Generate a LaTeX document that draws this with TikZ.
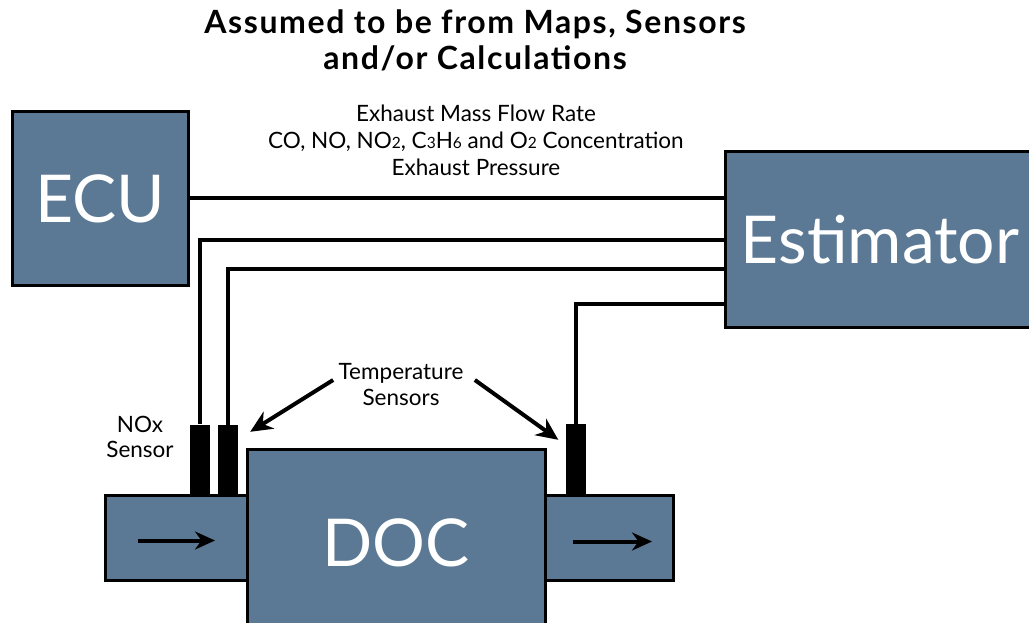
\documentclass[tikz,border=0pt]{standalone}
\usepackage{fontspec}
\setmainfont{Lato}
\newfontfamily\titlefont[LetterSpace=5]{Lato}
\usepackage{xcolor}
\usetikzlibrary{arrows.meta,calc}
\definecolor{slate}{HTML}{5B7994}
\newcommand{\lowidx}[1]{{\fontsize{15.5}{15.5}\selectfont #1}}

\begin{document}
\begin{tikzpicture}[x=1pt,y=-1pt,>=Stealth,
  block/.style={draw=black,line width=3pt,fill=slate,text=white,inner sep=0pt,
                font=\fontsize{66}{66}\selectfont},
  pipe/.style={draw=black,line width=3pt,fill=slate,inner sep=0pt},
  probe/.style={fill=black,inner sep=0pt,minimum width=20pt,minimum height=70pt},
  wire/.style={line width=4pt},
  flow/.style={line width=4pt,-{Stealth[length=20pt,width=18pt]}},
  lbl/.style={align=center,font=\fontsize{22.5}{27}\selectfont}]
\useasboundingbox (0,0) rectangle (1029,623);

\node[font=\titlefont\bfseries\fontsize{32}{36}\selectfont,align=center] (title) at (475,40)
  {Assumed to be from Maps, Sensors\\and/or Calculations};
\node[lbl] (signals) at (476,140)
  {Exhaust Mass Flow Rate\\CO, NO, NO\lowidx{2}, C\lowidx{3}H\lowidx{6} and O\lowidx{2} Concentration\\Exhaust Pressure};

\node[block,minimum width=176pt,minimum height=173pt] (ecu) at (100,198.5) {ECU};
\node[block,minimum width=310pt,minimum height=175pt] (est) at (880,239.5) {Estimator};

\node[pipe,minimum width=142pt,minimum height=85pt] (inlet) at (176,537.5) {};
\node[pipe,minimum width=128pt,minimum height=85pt] (outlet) at (609,537.5) {};
\node[block,minimum width=298pt,minimum height=188pt] (doc) at (396,543) {DOC};

\node[probe] (nox) at (200,459.5) {};
\node[probe] (tin) at (228,460) {};
\node[probe] (tout) at (575.5,459) {};

\coordinate (w3) at ($(est.west)+(0,29)$);
\coordinate (w4) at ($(est.south west)+(0,-25)$);
\draw[wire] (ecu.east) -- (ecu.east -| est.west);
\draw[wire] (nox.north) |- (est.west);
\draw[wire] (tin.north) |- (w3);
\draw[wire] (tout.north) |- (w4);

\draw[flow] ($(inlet.center)+(-38,3)$) -- ($(inlet.center)+(39,3)$);
\draw[flow] ($(outlet.center)+(-36,4)$) -- ($(outlet.center)+(43,4)$);

\node[lbl,font=\fontsize{22.5}{26}\selectfont] (tsens) at (401,385) {Temperature\\Sensors};
\node[lbl,font=\fontsize{22.5}{25}\selectfont] (noxlbl) at (140,437) {NOx\\Sensor};
\draw[flow,-{Stealth[length=22pt,width=20pt]}] ($(tsens.west)+(-2,-5)$) -- ($(tin.north east)+(12,7)$);
\draw[flow,-{Stealth[length=22pt,width=20pt]}] ($(tsens.east)+(8,-5)$) -- ($(tout.north west)+(-7,16)$);
\end{tikzpicture}
\end{document}
